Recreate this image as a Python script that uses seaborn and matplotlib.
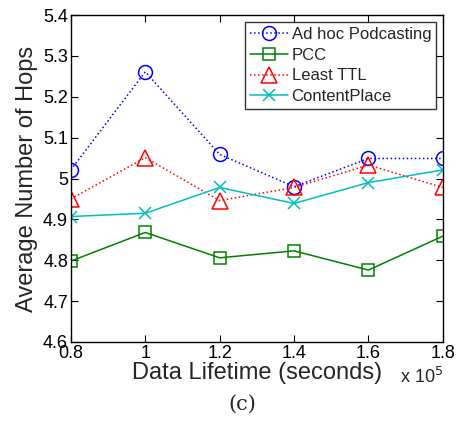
import matplotlib
matplotlib.use("Agg")
import matplotlib.pyplot as plt
import seaborn as sns
import pandas as pd

lifetime = [0.8, 1.0, 1.2, 1.4, 1.6, 1.8]
adhoc = [5.021, 5.261, 5.059, 4.980, 5.049, 5.049]
pcc = [4.798, 4.868, 4.806, 4.823, 4.776, 4.859]
least_ttl = [4.950, 5.051, 4.946, 4.978, 5.033, 4.978]
contentplace = [4.907, 4.915, 4.978, 4.939, 4.990, 5.021]
names = ["Ad hoc Podcasting", "PCC", "Least TTL", "ContentPlace"]
yticks = [4.6, 4.7, 4.8, 4.9, 5.0, 5.1, 5.2, 5.3, 5.4]
ytick_labels = ["4.6", "4.7", "4.8", "4.9", "5", "5.1", "5.2", "5.3", "5.4"]
xticks = [0.8, 1.0, 1.2, 1.4, 1.6, 1.8]
xtick_labels = ["0.8", "1", "1.2", "1.4", "1.6", "1.8"]

sns.set_theme(style="white")
plt.rcParams['font.family'] = ['Liberation Sans', 'DejaVu Sans']
plt.rcParams['xtick.direction'] = 'in'
plt.rcParams['ytick.direction'] = 'in'

fig = plt.figure(figsize=(4.57, 4.23), dpi=100)
ax = fig.add_axes([0.155, 0.1915, 0.814, 0.773])

df = pd.DataFrame({"x": lifetime * 4,
                   "y": adhoc + pcc + least_ttl + contentplace,
                   "s": sum([[n] * len(lifetime) for n in names], [])})

styles = {
    "Ad hoc Podcasting": dict(color="#0000ff", ls=":", marker="o", ms=10),
    "PCC": dict(color="#008000", ls="-", marker="s", ms=9),
    "Least TTL": dict(color="#ff0000", ls=":", marker="^", ms=11),
    "ContentPlace": dict(color="#00bfbf", ls="-", marker="x", ms=8),
}
for n in names:
    st = styles[n]
    sub = df[df.s == n]
    sns.lineplot(data=sub, x="x", y="y", ax=ax, color=st["color"], linestyle=st["ls"],
                 marker=st["marker"], markersize=st["ms"], markerfacecolor="none",
                 markeredgecolor=st["color"], markeredgewidth=1.1, linewidth=1.1,
                 label=n, legend=False)

ax.set_xlim(0.8, 1.8)
ax.set_ylim(4.6, 5.4)
ax.set_xticks(xticks)
ax.set_xticklabels(xtick_labels)
ax.set_yticks(yticks)
ax.set_yticklabels(ytick_labels)
ax.tick_params(axis='both', labelsize=13, length=5, width=0.8, top=True, right=True,
               bottom=True, left=True, pad=2, colors='black')
for sp in ax.spines.values():
    sp.set_color('black')
    sp.set_linewidth(1.0)
ax.set_xlabel("Data Lifetime (seconds)", fontsize=17, labelpad=0)
ax.set_ylabel("Average Number of Hops", fontsize=17, labelpad=4)
ax.text(1.0, -0.075, r"x 10$^5$", transform=ax.transAxes, ha="right", va="top", fontsize=13)
fig.text(0.53, 0.045, "(c)", ha="center", va="center", fontsize=15, family="DejaVu Serif")

leg = ax.legend(loc="upper right", fontsize=12, frameon=True, fancybox=False,
                edgecolor="black", borderpad=0.3, labelspacing=0.35, handlelength=2.3,
                handletextpad=0.2, borderaxespad=0.4)
leg.get_frame().set_linewidth(1.0)

fig.savefig("out.png", dpi=100)
